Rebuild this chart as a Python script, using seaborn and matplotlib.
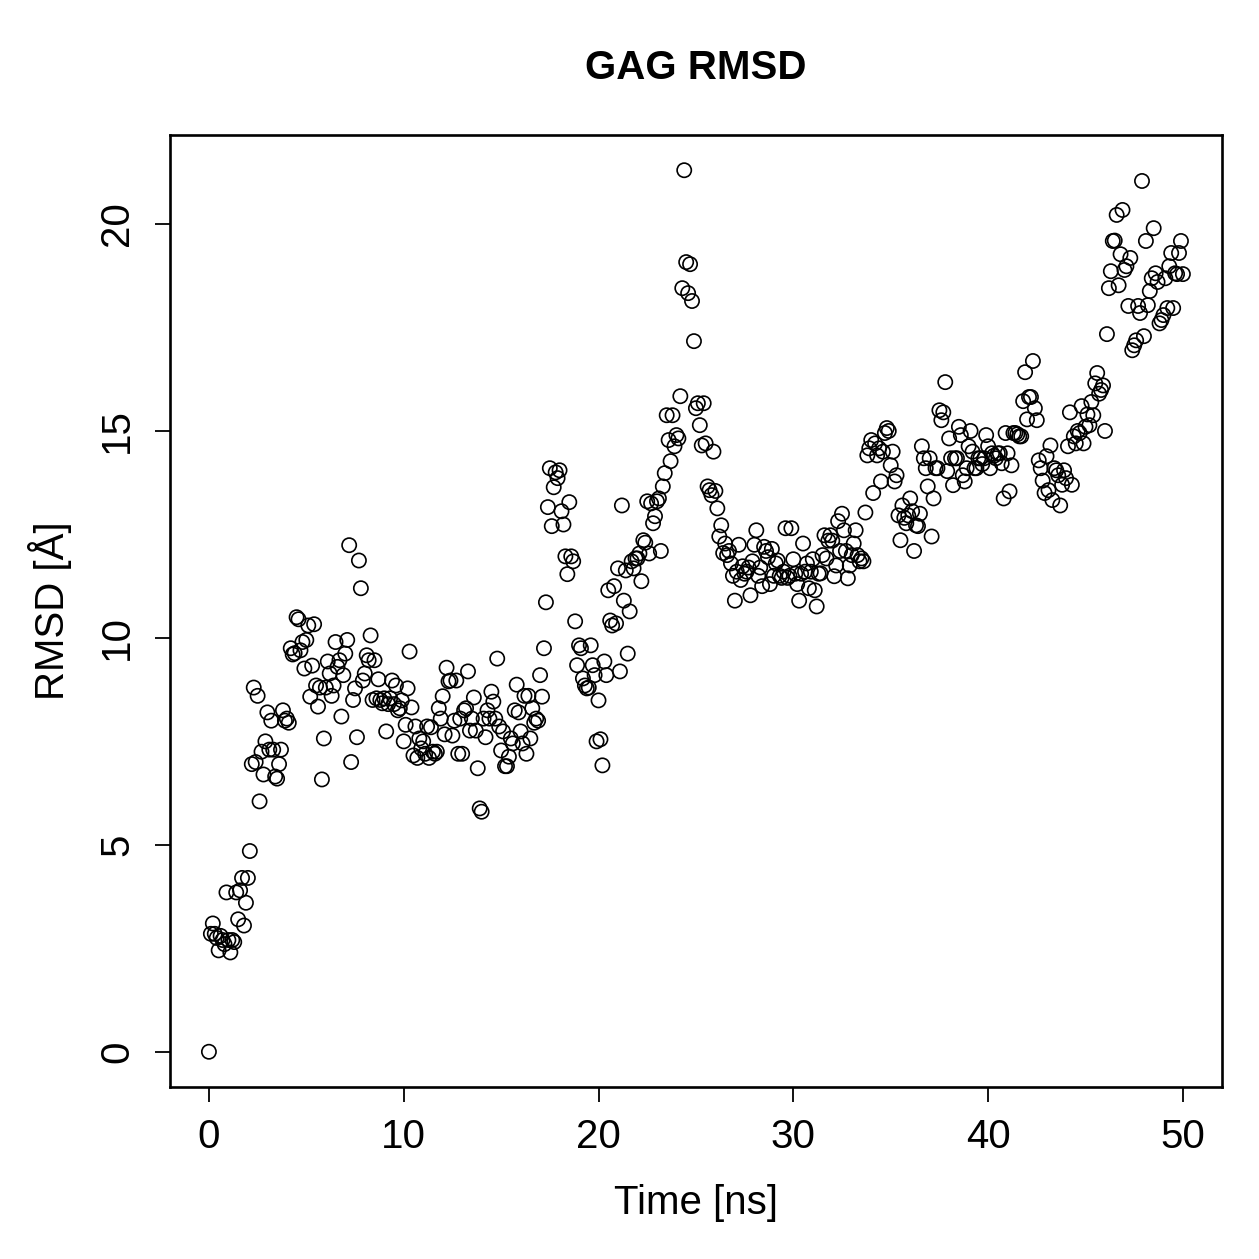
import matplotlib
import matplotlib.pyplot as plt
import numpy as np
import pandas as pd
import seaborn as sns

matplotlib.use("Agg")

rmsd_00_10 = [
    0, 2.85, 3.1, 2.85, 2.75, 2.45, 2.8, 2.7, 2.6, 3.85,
    2.7, 2.4, 2.7, 2.65, 3.85, 3.2, 3.9, 4.2, 3.05, 3.6,
    4.2, 4.85, 6.95, 8.8, 7.0, 8.6, 6.05, 7.25, 6.7, 7.5,
    8.2, 7.3, 8.0, 7.3, 6.65, 6.6, 6.95, 7.3, 8.25, 8.0,
    8.05, 7.95, 9.75, 9.6, 9.63, 10.5, 10.45, 9.7, 9.9, 9.26,
    9.95, 10.3, 8.58, 9.33, 10.33, 8.85, 8.34, 8.8, 6.58, 7.57,
    8.8, 9.43, 9.14, 8.6, 8.85, 9.9, 9.3, 9.46, 8.1, 9.1,
    9.62, 9.95, 12.24, 7.0, 8.5, 8.78, 7.6, 11.87, 11.2, 8.97,
    9.14, 9.58, 9.46, 10.06, 8.5, 9.46, 8.54, 9.0, 8.5, 8.42,
    8.54, 7.74, 8.4, 8.54, 8.97, 8.4, 8.85, 8.25, 8.3, 8.49,
]
rmsd_10_20 = [
    7.5, 7.9, 8.78, 9.67, 8.32, 7.16, 7.86, 7.1, 7.57, 7.33,
    7.5, 7.2, 7.86, 7.1, 7.84, 7.25, 7.2, 7.25, 8.3, 8.05,
    8.59, 7.67, 9.28, 8.95, 8.97, 7.64, 8.0, 8.97, 7.2, 8.05,
    7.2, 8.25, 8.3, 9.19, 7.76, 8.05, 8.56, 7.76, 6.85, 5.88,
    5.8, 8.05, 7.6, 8.25, 8.05, 8.7, 8.46, 8.05, 9.5, 7.86,
    7.28, 7.74, 6.9, 6.9, 7.13, 7.57, 7.45, 8.25, 8.87, 8.2,
    7.74, 7.45, 8.6, 7.2, 8.6, 7.57, 8.3, 7.95, 8.05, 8.0,
    9.1, 8.58, 9.75, 10.86, 13.16, 14.1, 12.7, 13.64, 14.0, 13.86,
    14.05, 13.06, 12.74, 11.97, 11.54, 13.28, 11.97, 11.85, 10.4, 9.34,
    9.82, 9.75, 9.02, 8.85, 8.78, 8.8, 9.82, 9.34, 9.1, 7.5,
]
rmsd_20_30 = [
    8.49, 7.55, 6.92, 9.43, 9.1, 11.15, 10.42, 10.3, 11.25, 10.35,
    11.68, 9.19, 13.2, 10.9, 11.63, 9.62, 10.64, 11.85, 11.68, 11.92,
    11.92, 12.04, 11.37, 12.36, 12.3, 13.3, 12.04, 13.25, 12.77, 12.94,
    13.3, 13.37, 12.1, 13.66, 13.98, 15.38, 14.78, 14.27, 15.38, 14.63,
    14.9, 14.82, 15.84, 18.45, 21.3, 19.08, 18.33, 19.03, 18.14, 17.17,
    15.55, 15.67, 15.14, 14.65, 15.67, 14.7, 13.66, 13.57, 13.45, 14.5,
    13.55, 13.13, 12.45, 12.72, 12.05, 12.28, 12.0, 12.1, 11.8, 11.5,
    10.9, 11.6, 12.25, 11.4, 11.73, 11.55, 11.6, 11.7, 11.03, 11.85,
    12.25, 12.6, 11.5, 11.7, 11.25, 12.2, 12.1, 11.95, 11.3, 12.15,
    11.5, 11.8, 11.87, 11.5, 11.45, 11.6, 12.65, 11.45, 11.5, 12.65,
]
rmsd_30_40 = [
    11.9, 11.55, 11.3, 10.9, 11.55, 12.28, 11.6, 11.8, 11.2, 11.6,
    11.9, 11.15, 10.76, 11.55, 11.56, 12.0, 12.48, 11.92, 12.35, 12.48,
    12.35, 11.49, 11.75, 12.82, 12.1, 13.0, 12.6, 12.1, 11.44, 11.75,
    12.0, 12.28, 12.6, 12.0, 11.85, 11.92, 11.85, 13.03, 14.41, 14.58,
    14.78, 13.5, 14.7, 14.41, 14.58, 13.78, 14.5, 14.95, 15.07, 15.0,
    14.17, 14.5, 13.78, 13.93, 12.96, 12.36, 13.2, 12.9, 12.77, 12.96,
    13.37, 13.06, 12.1, 12.72, 12.7, 13.0, 14.63, 14.34, 14.1, 13.66,
    14.34, 12.45, 13.37, 14.1, 14.1, 15.5, 15.26, 15.45, 16.18, 14.03,
    14.82, 14.34, 13.69, 14.34, 14.34, 15.1, 14.9, 13.93, 13.78, 14.1,
    14.63, 15.0, 14.5, 14.1, 14.1, 14.34, 14.34, 14.2, 14.34, 14.9,
]
rmsd_40_50 = [
    14.63, 14.1, 14.46, 14.4, 14.34, 14.46, 14.46, 14.22, 13.37, 14.95,
    14.46, 13.54, 14.17, 14.95, 14.95, 14.92, 14.87, 14.87, 15.72, 16.42,
    15.28, 15.82, 15.82, 16.69, 15.55, 15.26, 14.29, 14.1, 13.8, 13.5,
    14.39, 13.57, 14.65, 13.33, 14.1, 14.05, 13.93, 13.2, 13.7, 14.05,
    13.86, 14.63, 15.45, 13.7, 14.87, 14.7, 15.0, 14.95, 15.6, 14.7,
    15.1, 15.4, 15.14, 15.7, 15.38, 16.15, 16.4, 15.9, 15.99, 16.1,
    15.0, 17.34, 18.45, 18.86, 19.59, 19.6, 20.22, 18.52, 19.27, 20.34,
    18.89, 18.98, 18.02, 19.18, 16.95, 17.07, 17.19, 18.02, 17.85, 21.04,
    17.29, 19.59, 18.04, 18.38, 18.69, 19.9, 18.81, 18.6, 17.6, 17.68,
    17.8, 18.69, 17.97, 18.98, 19.3, 17.97, 18.81, 18.79, 19.3, 19.59,
    18.79,
]
x_ticks = [0, 10, 20, 30, 40, 50]
y_ticks = [0, 5, 10, 15, 20]

rmsd = rmsd_00_10 + rmsd_10_20 + rmsd_20_30 + rmsd_30_40 + rmsd_40_50
time = np.linspace(0, 50, len(rmsd))
df = pd.DataFrame({"time": time, "rmsd": rmsd})

sns.set_style("ticks")
plt.rcParams["font.family"] = ["Liberation Sans", "DejaVu Sans"]
plt.rcParams["text.color"] = "black"
plt.rcParams["xtick.color"] = "black"
plt.rcParams["ytick.color"] = "black"

fig = plt.figure(figsize=(12.59, 12.59), dpi=100)
ax = fig.add_axes([0.135, 0.1366, 0.8355, 0.7562])

sns.scatterplot(data=df, x="time", y="rmsd", marker="o", s=105,
                facecolor="none", edgecolor="black", linewidth=1.2,
                legend=False, ax=ax)

ax.set_xlim(-2, 52)
ax.set_ylim(-0.852, 22.152)
ax.set_xticks(x_ticks)
ax.set_yticks(y_ticks)
ax.set_yticklabels([str(v) for v in y_ticks], rotation=90, va="center")
ax.set_xlabel("")
ax.set_ylabel("")
ax.tick_params(length=10.5, width=1.3, labelsize=29, color="black", labelcolor="black")
ax.tick_params(axis="x", pad=12)
ax.tick_params(axis="y", pad=14)
for s in ax.spines.values():
    s.set_linewidth(1.9)
    s.set_color("black")

fig.text(0.5529, 1 - 68 / 1259, "GAG RMSD", ha="center", va="center",
         fontsize=29, fontweight="bold", color="black")
fig.text(0.5529, 1 - 1203 / 1259, "Time [ns]", ha="center", va="center",
         fontsize=29, color="black")
fig.text(50 / 1259, 0.5147, "RMSD [Å]", ha="center", va="center", fontsize=29,
         rotation=90, color="black")

fig.savefig("out.png", dpi=100)
plt.close(fig)
